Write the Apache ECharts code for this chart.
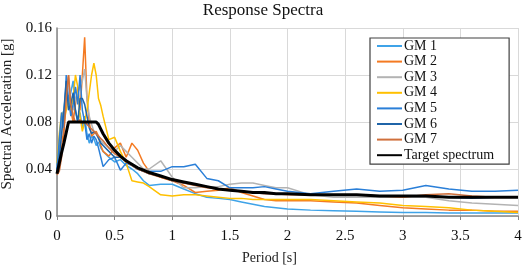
<!DOCTYPE html>
<html>
<head>
<meta charset="utf-8">
<script src="https://cdn.jsdelivr.net/npm/echarts@6/dist/echarts.min.js"></script>
<style>
  html, body { margin: 0; padding: 0; background: #fff; }
  #chart { width: 526px; height: 266px; }
</style>
</head>
<body>
<div id="chart"></div>
<script>
// periods [s] shared by every series
var periods = [0, 0.02, 0.04, 0.06, 0.08, 0.1, 0.12, 0.14, 0.16, 0.18, 0.2, 0.22, 0.24, 0.26, 0.28, 0.3, 0.32, 0.34, 0.36, 0.38,
    0.4, 0.45, 0.5, 0.55, 0.6, 0.65, 0.7, 0.75, 0.8, 0.9, 1.0, 1.1, 1.2, 1.3, 1.4, 1.5, 1.6, 1.7, 1.8, 1.9,
    2.0, 2.2, 2.4, 2.6, 2.8, 3.0, 3.2, 3.4, 3.6, 3.8, 4.0];

var gm1 = [0.040, 0.060, 0.085, 0.090, 0.110, 0.095, 0.105, 0.115, 0.090, 0.080, 0.088, 0.075, 0.085, 0.070, 0.062, 0.068, 0.066, 0.060, 0.063, 0.058,
    0.055, 0.050, 0.046, 0.048, 0.043, 0.040, 0.036, 0.030, 0.026, 0.027, 0.027, 0.023, 0.019, 0.016, 0.015, 0.014, 0.012, 0.010, 0.008, 0.007,
    0.006, 0.005, 0.0045, 0.004, 0.0035, 0.003, 0.003, 0.0025, 0.0025, 0.0025, 0.0025];
var gm2 = [0.036, 0.040, 0.060, 0.075, 0.100, 0.120, 0.090, 0.080, 0.095, 0.110, 0.090, 0.120, 0.152, 0.100, 0.080, 0.068, 0.070, 0.072, 0.068, 0.060,
    0.055, 0.051, 0.058, 0.062, 0.050, 0.062, 0.056, 0.045, 0.038, 0.033, 0.030, 0.026, 0.020, 0.021, 0.022, 0.024, 0.020, 0.017, 0.014, 0.013,
    0.013, 0.013, 0.012, 0.011, 0.009, 0.007, 0.006, 0.005, 0.005, 0.004, 0.004];
var gm3 = [0.042, 0.050, 0.070, 0.090, 0.100, 0.115, 0.100, 0.090, 0.100, 0.105, 0.110, 0.115, 0.125, 0.100, 0.085, 0.078, 0.072, 0.070, 0.068, 0.064,
    0.062, 0.058, 0.055, 0.060, 0.055, 0.050, 0.045, 0.040, 0.040, 0.047, 0.033, 0.024, 0.024, 0.025, 0.025, 0.027, 0.028, 0.028, 0.026, 0.024,
    0.024, 0.018, 0.016, 0.016, 0.016, 0.016, 0.016, 0.013, 0.011, 0.010, 0.009];
var gm4 = [0.045, 0.070, 0.088, 0.080, 0.090, 0.100, 0.090, 0.100, 0.120, 0.110, 0.085, 0.072, 0.080, 0.090, 0.105, 0.120, 0.130, 0.120, 0.100, 0.094,
    0.085, 0.065, 0.067, 0.055, 0.045, 0.030, 0.029, 0.028, 0.025, 0.018, 0.017, 0.018, 0.018, 0.017, 0.016, 0.015, 0.015, 0.014, 0.014, 0.014,
    0.014, 0.014, 0.013, 0.012, 0.011, 0.009, 0.008, 0.007, 0.005, 0.004, 0.003];
var gm5 = [0.040, 0.065, 0.088, 0.075, 0.120, 0.100, 0.085, 0.095, 0.110, 0.095, 0.120, 0.090, 0.080, 0.065, 0.070, 0.062, 0.068, 0.065, 0.058, 0.050,
    0.042, 0.048, 0.050, 0.039, 0.045, 0.043, 0.040, 0.038, 0.038, 0.038, 0.042, 0.042, 0.044, 0.032, 0.030, 0.024, 0.024, 0.024, 0.025, 0.023,
    0.021, 0.019, 0.021, 0.023, 0.021, 0.022, 0.026, 0.023, 0.021, 0.021, 0.022];
var gm6 = [0.038, 0.050, 0.070, 0.090, 0.115, 0.090, 0.095, 0.105, 0.090, 0.080, 0.100, 0.100, 0.095, 0.085, 0.075, 0.070, 0.072, 0.070, 0.066, 0.062,
    0.060, 0.055, 0.050, 0.050, 0.047, 0.043, 0.040, 0.038, 0.036, 0.034, 0.030, 0.028, 0.027, 0.025, 0.023, 0.022, 0.021, 0.020, 0.019, 0.019,
    0.019, 0.018, 0.018, 0.018, 0.017, 0.017, 0.017, 0.016, 0.015, 0.016, 0.016];
var gm7 = [0.035, 0.038, 0.050, 0.070, 0.100, 0.120, 0.095, 0.085, 0.080, 0.080, 0.082, 0.079, 0.080, 0.078, 0.076, 0.074, 0.072, 0.070, 0.068, 0.066,
    0.064, 0.058, 0.053, 0.050, 0.046, 0.043, 0.040, 0.038, 0.036, 0.033, 0.030, 0.028, 0.026, 0.024, 0.023, 0.022, 0.021, 0.020, 0.019, 0.019,
    0.018, 0.018, 0.018, 0.018, 0.017, 0.016, 0.018, 0.019, 0.017, 0.016, 0.016];
var target = [0.036, 0.045, 0.054, 0.062, 0.071, 0.080, 0.080, 0.080, 0.080, 0.080, 0.080, 0.080, 0.080, 0.080, 0.080, 0.080, 0.080, 0.080, 0.078, 0.074,
    0.070, 0.062, 0.056, 0.051, 0.047, 0.044, 0.041, 0.039, 0.037, 0.034, 0.031, 0.029, 0.027, 0.025, 0.023, 0.022, 0.021, 0.020, 0.020, 0.019,
    0.019, 0.018, 0.018, 0.018, 0.017, 0.017, 0.017, 0.016, 0.016, 0.016, 0.016];

var names = ['GM 1', 'GM 2', 'GM 3', 'GM 4', 'GM 5', 'GM 6', 'GM 7', 'Target spectrum'];
var values = [gm1, gm2, gm3, gm4, gm5, gm6, gm7, target];
var colors = ['#3fa3e8', '#f47a22', '#b3b3b3', '#ffc000', '#2a7fd8', '#1f64a8', '#d0703c', '#000000'];

var font = "'Liberation Serif', 'Times New Roman', serif";
var chart = echarts.init(document.getElementById('chart'));

var series = values.map(function (v, i) {
    return {
        name: names[i],
        type: 'line',
        symbol: 'none',
        z: i === 7 ? 10 : 2,
        lineStyle: { width: i === 7 ? 3 : 1.5, color: colors[i] },
        itemStyle: { color: colors[i] },
        data: periods.map(function (p, k) { return [p, v[k]]; })
    };
});

var option = {
    animation: false,
    textStyle: { fontFamily: font },
    title: {
        text: 'Response Spectra',
        left: 'center',
        top: 2,
        padding: 0,
        textStyle: { fontFamily: font, fontSize: 17, fontWeight: 'normal', color: '#111' }
    },
    legend: {
        orient: 'vertical',
        left: 370,
        top: 38,
        itemWidth: 25,
        itemHeight: 6,
        itemGap: 1.6,
        padding: [1, 15, 2, 6],
        borderColor: '#404040',
        borderWidth: 1.2,
        backgroundColor: '#fff',
        itemStyle: { opacity: 0 },
        textStyle: { fontFamily: font, fontSize: 14, lineHeight: 14, color: '#111', padding: [0, 0, 0, -3] },
        data: names
    },
    grid: { left: 57, right: 8, top: 28, bottom: 50, outerBoundsMode: 'none', containLabel: false },
    xAxis: {
        type: 'value',
        min: 0,
        max: 4,
        interval: 0.5,
        name: 'Period [s]',
        nameLocation: 'middle',
        nameGap: 35,
        nameTextStyle: { fontFamily: font, fontSize: 14, fontWeight: 400, color: '#222', padding: [0, 36, 0, 0] },
        axisLine: { lineStyle: { color: '#868686', width: 1.5 } },
        axisTick: { show: true, length: 4, lineStyle: { color: '#868686' } },
        axisLabel: { fontFamily: font, fontSize: 15, color: '#111', margin: 13 },
        splitLine: { show: true, lineStyle: { color: '#d9d9d9', width: 1 } }
    },
    yAxis: {
        type: 'value',
        min: 0,
        max: 0.16,
        interval: 0.04,
        name: 'Spectral Acceleration [g]',
        nameLocation: 'middle',
        nameRotate: 90,
        nameGap: 41,
        nameTextStyle: { fontFamily: font, fontSize: 15, fontWeight: 400, color: '#222', padding: [0, 0, 0, 16] },
        axisLine: { show: true, lineStyle: { color: '#868686', width: 1.5 } },
        axisTick: { show: false },
        axisLabel: { fontFamily: font, fontSize: 15, color: '#111', margin: 5 },
        splitLine: { show: true, lineStyle: { color: '#d9d9d9', width: 1 } }
    },
    series: series
};

chart.setOption(option);
</script>
</body>
</html>
